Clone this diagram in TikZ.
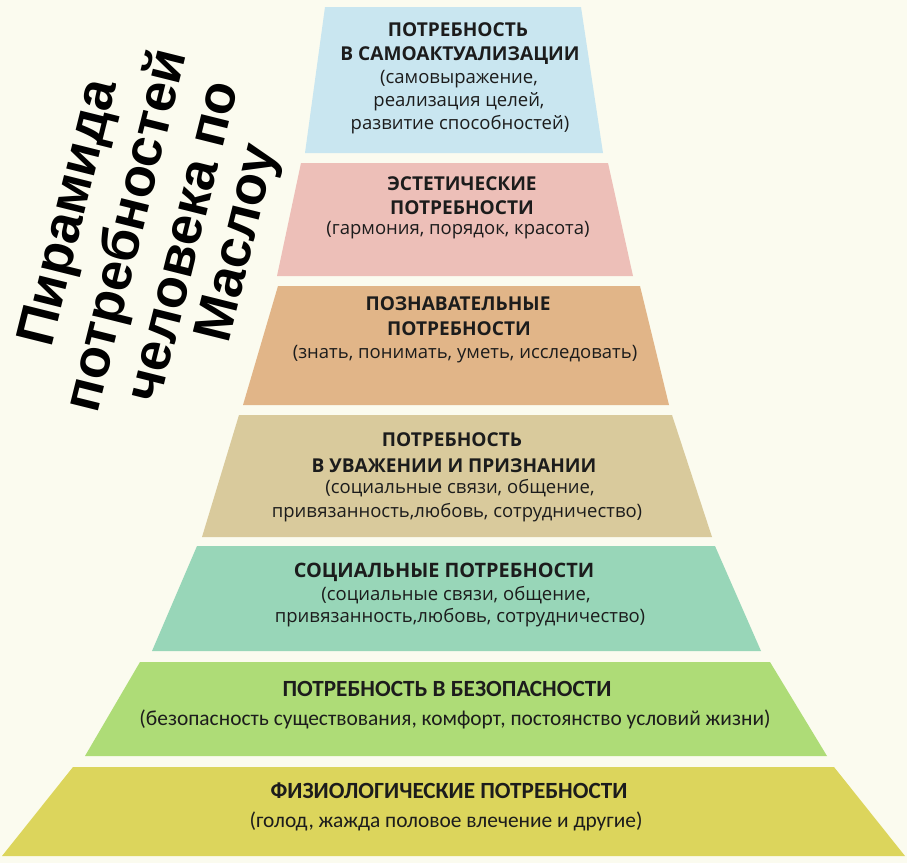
\documentclass[tikz,border=0pt]{standalone}
\usepackage{fontspec}
\setmainfont{Open Sans}
\newfontfamily\calib{Carlito}
\newfontfamily\arialb{Liberation Sans}
\definecolor{bg}{HTML}{FBFBEF}
\definecolor{ink}{HTML}{1C1C1C}
\definecolor{cA}{HTML}{C9E6F0}
\definecolor{cB}{HTML}{EDBFB8}
\definecolor{cC}{HTML}{E1B588}
\definecolor{cD}{HTML}{D9CA9C}
\definecolor{cE}{HTML}{98D6B8}
\definecolor{cF}{HTML}{AEDC77}
\definecolor{cG}{HTML}{DCD55C}
\begin{document}
\begin{tikzpicture}[x=1pt,y=-1pt,
  hd/.style={font=\fontsize{19.1}{20}\selectfont\bfseries, text=ink, anchor=base, inner sep=0pt},
  hdl/.style={font=\fontsize{19.9}{20}\selectfont\bfseries, text=ink, anchor=base, inner sep=0pt},
  sb/.style={font=\fontsize{18.5}{20}\selectfont, text=ink, anchor=base, inner sep=0pt},
  hdc/.style={font=\calib\fontsize{23.2}{24}\selectfont\bfseries, text=ink, anchor=base, inner sep=0pt},
  sbc/.style={font=\calib\fontsize{21.4}{22}\selectfont, text=ink, anchor=base, inner sep=0pt},
  ttl/.style={font=\arialb\fontsize{54}{56}\selectfont\bfseries, text=black, rotate=76, inner sep=0pt, anchor=center}]
\useasboundingbox (0,0) rectangle (907,863);
\fill[bg] (0,0) rectangle (907,863);
% layers
\fill[cA] (325,7) -- (581,7) -- (603,153) -- (305,153) -- cycle;
\fill[cB] (301,163) -- (608,163) -- (633,276) -- (277,276) -- cycle;
\fill[cC] (278,286) -- (640,286) -- (669,405) -- (243,405) -- cycle;
\fill[cD] (239,415) -- (672,415) -- (712,537) -- (202,537) -- cycle;
\fill[cE] (197,546) -- (715,546) -- (761,651) -- (152,651) -- cycle;
\fill[cF] (140,662) -- (770,662) -- (827,756) -- (85,756) -- cycle;
\fill[cG] (73,767) -- (834,767) -- (905,856) -- (2,856) -- cycle;
% layer 1
\node[hd] (a1) at (458,36) {ПОТРЕБНОСТЬ};
\node[hd] (a2) at (460,60) {В САМОАКТУАЛИЗАЦИИ};
\node[sb] (a3) at (459,83) {(самовыражение,};
\node[sb] (a4) at (459,106) {реализация целей,};
\node[sb] (a5) at (460,129) {развитие способностей)};
% layer 2
\node[hd] (b1) at (462,190) {ЭСТЕТИЧЕСКИЕ};
\node[hd] (b2) at (462,214) {ПОТРЕБНОСТИ};
\node[sb] (b3) at (458,234) {(гармония, порядок, красота)};
% layer 3
\node[hd] (c1) at (458,310) {ПОЗНАВАТЕЛЬНЫЕ};
\node[hd] (c2) at (459,335) {ПОТРЕБНОСТИ};
\node[sb] (c3) at (465,358) {(знать, понимать, уметь, исследовать)};
% layer 4
\node[hd] (d1) at (452,446) {ПОТРЕБНОСТЬ};
\node[hd] (d2) at (454,472) {В УВАЖЕНИИ И ПРИЗНАНИИ};
\node[sb] (d3) at (460,493) {(социальные связи, общение,};
\node[sb] (d4) at (457,517) {привязанность,любовь, сотрудничество)};
% layer 5
\node[hdl] (e1) at (444,577) {СОЦИАЛЬНЫЕ ПОТРЕБНОСТИ};
\node[sb] (e2) at (456,600) {(социальные связи, общение,};
\node[sb] (e3) at (460,622) {привязанность,любовь, сотрудничество)};
% layer 6
\node[hdc] (f1) at (447,696) {ПОТРЕБНОСТЬ В БЕЗОПАСНОСТИ};
\node[sbc] (f2) at (455,725) {(безопасность существования, комфорт, постоянство условий жизни)};
% layer 7
\node[hdc] (g1) at (449,798) {ФИЗИОЛОГИЧЕСКИЕ ПОТРЕБНОСТИ};
\node[sbc] (g2) at (446,827) {(голод, жажда половое влечение и другие)};
% title
\node[ttl] (t1) at (71.5,213.5) {Пирамида};
\node[ttl] (t2) at (128,231) {потребностей};
\node[ttl] (t3) at (185,242) {человека по};
\node[ttl] (t4) at (240,244) {Маслоу};
\end{tikzpicture}
\end{document}
